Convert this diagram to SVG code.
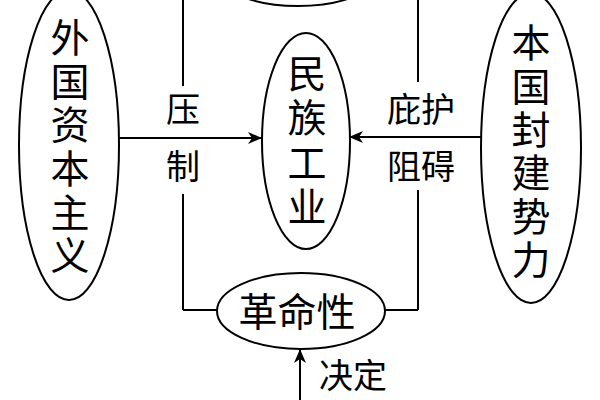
<svg xmlns="http://www.w3.org/2000/svg" width="600" height="400" viewBox="0 0 600 400">
<style>
.node ellipse{fill:#fff;stroke:#000;stroke-width:2}
.t{font-family:"Liberation Serif","Noto Sans CJK SC","Noto Sans CJK JP",serif;fill:#000;text-anchor:middle;dominant-baseline:central}
.big{font-size:39px}
.lab{font-size:34px}
.conn line{stroke:#000;stroke-width:2;fill:none}
</style>
<defs>
<marker id="arr" viewBox="0 0 14 12" refX="13" refY="6" markerWidth="14" markerHeight="12" markerUnits="userSpaceOnUse" orient="auto">
<path d="M0,0 L14,6 L0,12 L4,6 Z" fill="#000"/>
</marker>
</defs>
<rect width="600" height="400" fill="#fff"/>
<g class="conn" id="connectors">
<line x1="183" y1="0" x2="183" y2="86"/>
<line x1="183" y1="194" x2="183" y2="310"/>
<line x1="183" y1="310" x2="217" y2="310"/>
<line x1="418" y1="0" x2="418" y2="82"/>
<line x1="418" y1="190" x2="418" y2="310"/>
<line x1="418" y1="310" x2="385" y2="310"/>
<line x1="118" y1="138" x2="261" y2="138" marker-end="url(#arr)"/>
<line x1="482" y1="137" x2="350" y2="137" marker-end="url(#arr)"/>
<line x1="300" y1="400" x2="300" y2="350" marker-end="url(#arr)"/>
<text class="t lab" x="183" y="110">压</text>
<text class="t lab" x="183" y="167">制</text>
<text class="t lab" x="421" y="110">庇护</text>
<text class="t lab" x="421" y="167">阻碍</text>
<text class="t lab" x="353" y="376">决定</text>
</g>
<g class="node" id="top">
<ellipse cx="298" cy="-14" rx="65" ry="20"/>
</g>
<g class="node" id="foreign">
<ellipse cx="69" cy="145" rx="50" ry="155"/>
<text class="t big" x="70" y="38">外</text>
<text class="t big" x="70" y="82">国</text>
<text class="t big" x="70" y="125">资</text>
<text class="t big" x="70" y="169">本</text>
<text class="t big" x="70" y="213">主</text>
<text class="t big" x="70" y="256">义</text>
</g>
<g class="node" id="feudal">
<ellipse cx="531" cy="148" rx="50" ry="155"/>
<text class="t big" x="531" y="43">本</text>
<text class="t big" x="531" y="87">国</text>
<text class="t big" x="531" y="130">封</text>
<text class="t big" x="531" y="173">建</text>
<text class="t big" x="531" y="217">势</text>
<text class="t big" x="531" y="260">力</text>
</g>
<g class="node" id="national">
<ellipse cx="306" cy="141" rx="44" ry="108"/>
<text class="t big" x="307" y="74">民</text>
<text class="t big" x="307" y="118">族</text>
<text class="t big" x="307" y="163">工</text>
<text class="t big" x="307" y="207">业</text>
</g>
<g class="node" id="revolution">
<ellipse cx="301" cy="311" rx="84" ry="38"/>
<text class="t big" x="297" y="312">革命性</text>
</g>
</svg>
